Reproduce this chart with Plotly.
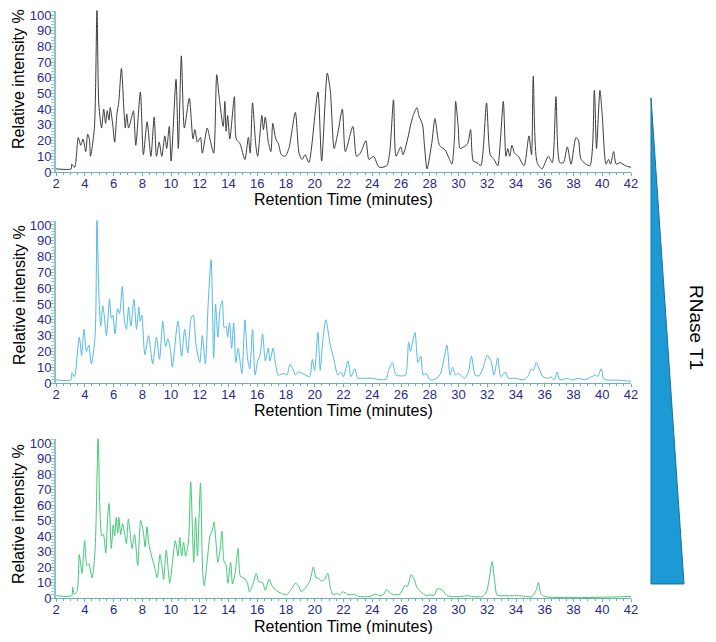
import plotly.graph_objects as go

# ---------------- data ----------------
top_t = [2.0, 3.05, 3.1, 3.3, 3.55, 3.72, 3.88, 4.07, 4.2, 4.32, 4.4, 4.67, 4.85, 4.98, 5.17, 5.32, 5.45, 5.56,
         5.69, 5.77, 5.95, 6.08, 6.24, 6.37, 6.55, 6.74, 6.82, 6.92, 7.05, 7.29, 7.39, 7.55, 7.87, 8.08, 8.34, 8.6,
         8.83, 8.99, 9.18, 9.36, 9.57, 9.7, 9.88, 10.01, 10.35, 10.51, 10.72, 10.93, 11.27, 11.53, 11.66, 11.84,
         12.05, 12.18, 12.52, 12.71, 12.97, 13.18, 13.36, 13.63, 13.75, 13.83, 13.94, 14.09, 14.41, 14.54, 14.8,
         15.14, 15.38, 15.51, 15.67, 15.9, 16.03, 16.32, 16.43, 16.56, 16.77, 16.95, 17.08, 17.29, 17.47, 17.68,
         17.94, 18.2, 18.65, 18.91, 19.12, 19.33, 19.59, 20.22, 20.48, 20.87, 21.08, 21.35, 21.61, 21.92, 22.13,
         22.65, 22.91, 23.17, 23.56, 23.77, 24.09, 24.48, 25.0, 25.21, 25.48, 25.66, 25.98, 26.14, 26.46, 26.67,
         26.85, 27.11, 27.24, 27.5, 27.63, 27.81, 28.15, 28.36, 28.68, 29.07, 29.33, 29.54, 29.72, 29.8, 29.98,
         30.11, 30.37, 30.63, 30.84, 31.03, 31.29, 31.55, 31.95, 32.21, 32.47, 32.73, 32.89, 33.12, 33.3, 33.43,
         33.56, 33.72, 33.9, 34.16, 34.56, 34.9, 35.08, 35.2, 35.47, 35.81, 36.25, 36.52, 36.78, 37.04, 37.3,
         37.57, 37.83, 38.17, 38.35, 38.53, 39.13, 39.45, 39.6, 39.84, 40.0, 40.26, 40.44, 40.58, 40.79, 40.97,
         41.23, 41.62, 42.0]
top_y = [2, 2, 5, 3, 22, 17, 21, 13, 24, 21, 10, 28, 104, 43, 28, 40, 31, 39,
         33, 41, 30, 19, 37, 45, 66, 37, 28, 37, 28, 36, 39, 17, 51, 11, 32, 10,
         35, 10, 19, 10, 23, 15, 29, 7, 59, 15, 74, 28, 47, 21, 27, 19,
         22, 12, 28, 21, 12, 62, 47, 29, 45, 26, 36, 21, 48, 21, 18,
         8, 22, 12, 44, 17, 10, 36, 27, 35, 19, 13, 31, 21, 18, 11,
         10, 15, 38, 12, 8, 11, 6, 51, 7, 63, 52, 15, 25, 40, 13,
         29, 10, 12, 20, 8, 10, 3, 4, 12, 46, 10, 16, 11, 21, 30,
         36, 41, 36, 30, 17, 2, 19, 34, 17, 14, 9, 5, 22, 45, 29,
         15, 16, 18, 27, 7, 6, 4, 44, 11, 8, 4, 17, 45, 10, 15,
         10, 17, 12, 10, 4, 23, 11, 61, 6, 2, 10, 6, 48, 6, 6,
         16, 5, 22, 20, 8, 4, 52, 15, 52, 36, 5, 8, 5, 13, 5,
         6, 4, 3]

mid_t = [2.0, 3.05, 3.10, 3.28, 3.62, 3.78, 3.94, 4.12, 4.28, 4.46, 4.72, 4.85, 4.98, 5.11, 5.25, 5.35, 5.51, 5.72,
         5.85, 5.95, 6.11, 6.29, 6.42, 6.61, 6.76, 6.90, 7.05, 7.21, 7.42, 7.60, 7.76, 7.86, 7.97, 8.18, 8.44, 8.57,
         8.73, 8.99, 9.20, 9.43, 9.62, 9.78, 9.96, 10.09, 10.48, 10.74, 10.95, 11.16, 11.40, 11.55, 11.74, 12.00,
         12.18, 12.39, 12.58, 12.79, 12.97, 13.10, 13.26, 13.41, 13.57, 13.70, 13.83, 13.94, 14.07, 14.22, 14.36,
         14.51, 14.67, 14.93, 15.14, 15.32, 15.48, 15.67, 15.85, 16.03, 16.19, 16.37, 16.56, 16.76, 16.89, 17.10,
         17.29, 17.47, 17.86, 18.07, 18.28, 18.47, 18.65, 18.86, 19.25, 19.64, 19.83, 19.99, 20.22, 20.38, 20.53,
         20.77, 21.08, 21.27, 21.61, 21.82, 22.00, 22.31, 22.52, 22.79, 23.0, 23.44, 23.96, 24.62, 24.96, 25.14,
         25.40, 25.66, 26.06, 26.32, 26.53, 26.66, 26.97, 27.18, 27.37, 27.55, 27.76, 28.02, 28.41, 28.75, 28.96,
         29.20, 29.41, 29.59, 29.80, 29.98, 30.25, 30.45, 30.69, 30.90, 31.16, 31.42, 31.69, 32.00, 32.26, 32.47,
         32.73, 32.94, 33.26, 33.47, 33.91, 34.56, 34.88, 35.04, 35.22, 35.40, 35.61, 35.87, 36.27, 36.40, 36.66,
         36.87, 37.05, 37.58, 37.84, 38.36, 38.75, 39.28, 39.54, 39.67, 39.93, 40.11, 40.59, 41.11, 42.0]
mid_y = [2, 2, 6.5, 4, 29, 17.5, 34, 20, 24, 12, 30, 104, 57, 36, 49, 43, 30, 53,
         41, 43, 31, 47, 44, 61, 39, 34, 48, 36, 53, 34, 48, 39, 43, 18, 30, 22,
         12, 29, 15, 39, 23, 28, 21, 10, 39, 17, 34, 19, 41, 43, 24, 13,
         30, 12, 49, 78, 16, 50, 29, 47, 52, 35, 36, 29, 38, 22, 38,
         13, 22, 6, 40, 16, 9, 34, 5, 14, 17.5, 31, 14, 22, 14, 22,
         11, 5, 6, 5, 12, 9, 5, 7, 5.5, 4, 15, 8, 32, 8, 24,
         40, 24, 17.5, 5, 7, 4, 14, 4, 9, 3, 3, 3, 2, 2.5, 8,
         13, 5, 4.5, 5, 26, 20, 32, 13, 17, 5, 6, 2, 2.5, 6, 14,
         24, 5, 10, 5, 6, 4, 3, 7, 17, 5, 4.5, 9, 17.5, 14, 5,
         16, 4, 7, 3, 3, 2, 5, 9, 8, 13, 9, 4, 3, 4, 2,
         7, 2, 3, 1.8, 3, 2, 4, 5, 4, 9, 2.5, 1.8, 1.8, 1]

bot_t = [2.0, 3.1, 3.15, 3.28, 3.46, 3.62, 3.81, 3.99, 4.15, 4.28, 4.51, 4.72, 4.93, 5.06, 5.19, 5.30, 5.46, 5.59,
         5.69, 5.85, 5.98, 6.08, 6.19, 6.29, 6.37, 6.50, 6.63, 6.76, 6.90, 7.03, 7.16, 7.29, 7.47, 7.68, 7.89, 8.07,
         8.20, 8.33, 8.46, 8.65, 8.86, 9.04, 9.23, 9.38, 9.49, 9.67, 9.91, 10.09, 10.30, 10.48, 10.61, 10.74, 10.88,
         11.01, 11.21, 11.37, 11.58, 11.71, 11.84, 12.05, 12.21, 12.31, 12.52, 12.71, 12.89, 12.99, 13.12, 13.26,
         13.41, 13.54, 13.68, 13.83, 13.96, 14.15, 14.28, 14.46, 14.67, 14.83, 15.06, 15.32, 15.45, 15.72, 15.93,
         16.11, 16.37, 16.56, 16.82, 17.03, 17.29, 17.68, 18.02, 18.34, 18.65, 18.86, 19.07, 19.38, 19.64, 19.91,
         20.09, 20.22, 20.43, 20.69, 20.90, 21.08, 21.27, 21.53, 21.74, 21.95, 22.26, 22.52, 22.73, 23.05, 23.83,
         24.22, 24.49, 24.75, 25.01, 25.27, 25.66, 25.92, 26.27, 26.45, 26.71, 26.92, 27.10, 27.37, 27.76, 28.02,
         28.28, 28.54, 28.80, 29.01, 29.20, 29.59, 30.11, 30.69, 30.90, 31.69, 31.95, 32.13, 32.34, 32.52, 32.68,
         33.0, 34.17, 35.1, 35.40, 35.56, 35.72, 36.0, 42.0]
bot_y = [1.5, 1.5, 7, 2.5, 4, 28, 16, 37, 21, 22, 13, 31, 104, 55, 40, 41, 29, 52,
         61, 32, 47, 40, 52, 42, 52, 41, 48, 42, 35, 51, 42, 32, 41, 21, 50, 43,
         33, 46, 35, 27, 20, 13, 28, 20, 12, 31, 9.5, 22, 37, 27, 39, 27, 36,
         27, 36, 75, 23, 52, 27, 74, 16, 8, 24, 40, 44, 49, 37, 23,
         31, 43, 24, 21, 9.5, 23, 9, 16, 32, 14, 13, 9.5, 4, 9.5, 16,
         10.5, 10, 5, 12, 8, 5, 3, 2, 5, 9.5, 8, 4, 7, 10.5, 20,
         13, 13, 11, 12, 16, 7, 2, 3, 2, 4, 2.5, 2, 2.5, 1, 1,
         2.5, 1.5, 2, 5.5, 3, 2, 2.5, 8, 7.5, 15, 12, 7, 4, 1.5, 2,
         1.5, 6, 5.5, 3.5, 1.5, 1, 1, 1.5, 1, 1, 4, 12, 23.5, 10.5, 2,
         1.5, 1.5, 1, 5, 10, 3, 1, 1]

x_ticks = list(range(2, 43, 2))
y_ticks = list(range(0, 101, 10))
x_title = "Retention Time (minutes)"
y_title = "Relative intensity %"
side_label = "RNase T1"

series = [
    (top_t, top_y, "#3c3c3c"),
    (mid_t, mid_y, "#52b8e6"),
    (bot_t, bot_y, "#41c878"),
]

# ---------------- figure ----------------
FONT = "Liberation Sans, Arial, sans-serif"
TICK_COLOR = "#262a8c"
AXIS_COLOR = "#6fb0b0"

# the page body adds an 8 px margin, so work in page pixels minus 8
OFF = 8
W, H = 700, 626
ML = 56 - OFF
MR = W - (631 - OFF)
PW = W - ML - MR


def px_x(p):
    return (p - OFF - ML) / PW


def px_y(p):
    return 1 - (p - OFF) / H


# page-pixel positions of each panel (y=0 baseline, top of plot area)
panels = [(172, 10.6), (383, 220.5), (598, 438.7)]
panel_max = [106 - 5 / 1.57, 106 - 5 / 1.58, 106 - 5 / 1.55]
xtitle_px = [199, 410, 626]
ytitle_px = [79, 295, 514]

fig = go.Figure()
layout = dict(
    width=W, height=H, autosize=False,
    margin=dict(l=ML, r=MR, t=0, b=0, pad=0, autoexpand=False),
    paper_bgcolor="white", plot_bgcolor="white",
    showlegend=False,
    font=dict(family=FONT),
)

annotations = []
for i, (tx, ty, col) in enumerate(series):
    n = "" if i == 0 else str(i + 1)
    fig.add_trace(go.Scatter(
        x=tx, y=ty, mode="lines", cliponaxis=False,
        line=dict(color=col, width=1, shape="spline", smoothing=0.7),
        xaxis="x" + n, yaxis="y" + n, hoverinfo="skip",
    ))
    base, top = panels[i]
    layout["xaxis" + n] = dict(
        range=[2, 42], domain=[0, 1], anchor="y" + n, automargin=False,
        tickvals=x_ticks, ticks="outside", ticklen=3, tickcolor=AXIS_COLOR,
        minor=dict(dtick=0.5, ticklen=2, tickcolor=AXIS_COLOR, ticks="outside"),
        showline=True, linecolor=AXIS_COLOR, linewidth=1,
        showgrid=False, zeroline=False, ticklabelstandoff=-4,
        ticklabeloverflow="allow",
        tickfont=dict(size=13, color=TICK_COLOR, family=FONT),
    )
    layout["yaxis" + n] = dict(
        range=[0, panel_max[i]], domain=[px_y(base), px_y(top)], anchor="x" + n, automargin=False,
        tickvals=y_ticks, ticks="outside", ticklen=4, tickcolor="#8cc4c4",
        minor=dict(dtick=2, ticklen=3, tickcolor="#9ccccc", ticks="outside"),
        showline=True, linecolor="#8cc4c4", linewidth=2,
        showgrid=False, zeroline=False, ticklabelstandoff=-4,
        ticklabeloverflow="allow",
        tickfont=dict(size=13, color=TICK_COLOR, family=FONT),
    )
    annotations.append(dict(
        text=x_title, xref="paper", yref="paper",
        x=px_x(343), y=px_y(xtitle_px[i]),
        xanchor="center", yanchor="middle", showarrow=False,
        font=dict(size=16, color="black", family=FONT),
    ))
    annotations.append(dict(
        text=y_title, xref="paper", yref="paper",
        x=px_x(19), y=px_y(ytitle_px[i]), textangle=-90,
        xanchor="center", yanchor="middle", showarrow=False,
        font=dict(size=16, color="black", family=FONT),
    ))

annotations.append(dict(
    text=side_label, xref="paper", yref="paper",
    x=px_x(697), y=px_y(327), textangle=90,
    xanchor="center", yanchor="middle", showarrow=False,
    font=dict(size=19, color="black", family=FONT),
))

tri = "M {:.4f},{:.4f} L {:.4f},{:.4f} L {:.4f},{:.4f} Z".format(
    px_x(651), px_y(98), px_x(684), px_y(584), px_x(651), px_y(584))
layout["shapes"] = [dict(type="path", path=tri, xref="paper", yref="paper",
                         fillcolor="#1b9ad6", line=dict(color="#1d6f9c", width=1))]
layout["annotations"] = annotations

fig.update_layout(**layout)
fig.write_html("out.html")
